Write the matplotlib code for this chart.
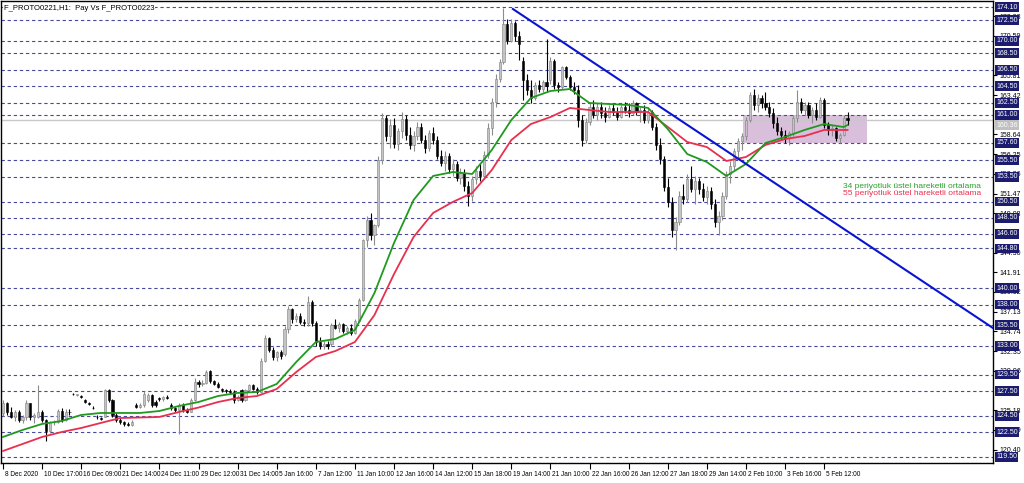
import matplotlib.pyplot as plt
import numpy as np
from matplotlib.patches import Rectangle
import matplotlib.transforms as mtransforms

plt.rcParams['font.family'] = ['Liberation Sans', 'DejaVu Sans']

# hourly candles, one row per 10 bars
opens = [
    124.8, 126.0, 124.9, 124.4, 125.0, 124.0, 124.3, 126.0, 124.3, 124.4,
    125.0, 124.0, 122.6, 123.7, 123.8, 125.1, 124.0, 125.0, 127.2, 127.0,
    126.9, 126.4, 126.0, 125.5, 124.4, 124.2, 124.4, 127.6, 126.4, 124.6,
    124.0, 123.7, 123.5, 123.4, 125.8, 125.6, 125.8, 126.4, 127.0, 126.2,
    126.6, 126.5, 126.8, 125.8, 125.4, 125.2, 125.8, 125.2, 125.0, 126.4,
    128.6, 128.3, 128.5, 129.9, 128.7, 128.4, 127.8, 127.6, 127.5, 127.4,
    126.4, 127.6, 126.4, 127.6, 128.2, 127.8, 127.4, 131.2, 133.9, 132.5,
    131.6, 132.2, 132.0, 135.0, 137.4, 136.2, 136.6, 135.9, 135.7, 138.3,
    135.8, 133.4, 133.0, 133.2, 133.2, 135.5, 135.2, 135.6, 134.8, 135.2,
    134.6, 136.0, 138.6, 145.8, 148.3, 146.4, 147.6, 155.5, 160.6, 158.4,
    159.8, 157.5, 159.0, 160.5, 158.6, 157.4, 158.5, 159.6, 158.0, 157.0,
    158.8, 158.0, 156.0, 155.2, 156.0, 154.4, 155.0, 153.4, 154.0, 152.4,
    151.2, 153.2, 154.2, 153.6, 156.2, 159.4, 162.6, 165.4, 167.4, 172.0,
    170.0, 172.2, 170.6, 167.6, 165.2, 164.0, 163.0, 164.6, 164.2, 165.0,
    165.2, 167.6, 164.6, 164.4, 166.8, 165.6, 164.4, 164.0, 160.4, 158.0,
    160.2, 162.0, 161.0, 162.0, 161.2, 160.8, 161.8, 161.4, 160.8, 162.0,
    161.6, 161.2, 162.4, 161.4, 161.6, 160.4, 161.4, 159.6, 157.4, 155.6,
    152.2, 150.4, 147.0, 148.0, 151.2, 150.8, 153.2, 152.0, 153.0, 152.0,
    151.0, 151.8, 150.2, 148.0, 148.8, 151.2, 153.8, 154.8, 156.6, 157.8,
    158.4, 160.4, 163.4, 162.2, 163.0, 162.4, 162.0, 161.2, 160.0, 159.0,
    158.6, 158.2, 158.8, 160.6, 162.6, 161.6, 162.2, 161.0, 161.6, 160.8,
    162.8, 159.8, 159.2, 159.4, 158.2, 158.6, 160.6,
]
highs = [
    126.4, 126.2, 125.6, 125.2, 125.2, 124.6, 126.4, 126.1, 124.8, 128.2,
    125.2, 124.1, 123.9, 124.0, 125.3, 125.4, 125.3, 125.3, 127.3, 127.2,
    127.0, 126.5, 126.2, 125.7, 124.6, 124.4, 127.8, 127.7, 126.5, 124.8,
    124.2, 123.9, 123.7, 124.0, 126.0, 126.0, 127.5, 127.3, 127.2, 126.4,
    126.8, 126.9, 127.0, 126.0, 125.6, 126.0, 126.0, 125.4, 126.6, 129.1,
    128.9, 128.8, 130.0, 130.0, 128.9, 128.6, 127.9, 127.8, 127.8, 127.6,
    127.0, 127.8, 127.8, 128.3, 128.4, 128.0, 131.5, 134.3, 134.0, 132.8,
    132.4, 132.5, 135.4, 137.8, 137.6, 137.0, 137.0, 136.2, 139.0, 138.5,
    136.0, 134.0, 133.6, 133.6, 135.8, 136.3, 135.9, 135.8, 135.4, 135.6,
    136.2, 138.8, 146.0, 148.8, 149.1, 147.8, 156.0, 161.2, 161.0, 160.5,
    160.6, 159.4, 161.4, 161.0, 159.5, 159.0, 160.2, 160.0, 158.6, 159.2,
    159.6, 158.4, 156.8, 156.6, 156.4, 155.6, 155.4, 154.6, 154.4, 153.0,
    153.6, 154.8, 155.0, 156.6, 160.0, 163.0, 166.0, 167.8, 174.0, 172.6,
    172.6, 172.4, 171.2, 168.0, 166.0, 165.2, 165.0, 165.2, 165.2, 170.2,
    168.0, 167.8, 165.0, 167.0, 167.0, 165.8, 165.0, 164.6, 161.0, 160.6,
    162.4, 162.8, 162.4, 162.6, 162.0, 162.2, 162.4, 162.0, 162.2, 162.6,
    162.4, 162.8, 162.6, 162.0, 162.2, 161.8, 161.6, 160.0, 158.2, 156.0,
    153.4, 151.0, 148.6, 151.8, 152.6, 153.8, 154.8, 153.6, 153.4, 152.8,
    152.4, 152.2, 150.8, 149.4, 151.6, 154.2, 155.4, 157.0, 158.2, 158.8,
    160.8, 163.8, 164.2, 163.6, 163.4, 163.8, 162.6, 161.8, 160.8, 159.6,
    159.2, 159.0, 161.0, 164.0, 163.0, 162.6, 162.6, 162.0, 162.4, 163.2,
    163.0, 160.2, 159.8, 159.6, 158.8, 161.0, 161.4,
]
lows = [
    124.5, 124.6, 124.2, 123.9, 123.8, 123.6, 124.0, 124.0, 123.6, 124.2,
    123.8, 121.5, 122.4, 123.4, 123.6, 123.8, 123.9, 124.6, 127.0, 126.9,
    126.7, 126.1, 125.8, 125.3, 124.1, 124.0, 124.3, 126.2, 124.4, 123.8,
    123.5, 123.3, 123.2, 123.3, 125.5, 125.4, 125.6, 126.2, 125.6, 125.6,
    126.3, 126.3, 126.5, 125.2, 125.0, 122.3, 125.0, 124.8, 124.9, 126.3,
    128.0, 128.1, 128.4, 128.5, 128.2, 127.9, 127.4, 127.3, 127.2, 126.0,
    126.3, 126.2, 126.3, 127.4, 127.6, 127.2, 127.3, 131.0, 132.2, 131.3,
    131.2, 131.4, 131.8, 134.6, 135.8, 135.9, 135.6, 135.4, 135.4, 135.4,
    133.0, 132.6, 132.6, 132.6, 133.0, 135.0, 134.7, 134.6, 134.4, 134.3,
    134.4, 135.9, 138.4, 145.0, 145.8, 145.2, 147.4, 155.0, 157.8, 157.0,
    157.0, 156.8, 158.2, 158.0, 156.9, 156.6, 158.0, 157.6, 156.4, 156.6,
    157.5, 155.6, 154.8, 154.2, 154.0, 153.6, 153.0, 152.6, 151.8, 150.0,
    150.6, 152.6, 153.0, 153.2, 155.8, 158.6, 162.0, 165.0, 167.2, 169.6,
    169.8, 170.0, 167.7, 162.8, 163.4, 162.4, 162.8, 163.8, 163.8, 163.8,
    164.8, 164.2, 163.8, 164.2, 165.4, 164.0, 163.6, 159.6, 157.2, 157.6,
    159.8, 160.6, 160.4, 160.6, 160.2, 160.6, 161.0, 160.4, 160.6, 161.2,
    160.8, 161.0, 161.0, 160.2, 160.0, 160.0, 159.2, 156.8, 155.0, 151.8,
    149.8, 146.2, 144.6, 147.6, 150.2, 150.4, 151.6, 150.2, 151.4, 150.6,
    150.2, 149.6, 147.4, 146.4, 148.2, 150.8, 152.8, 154.2, 155.6, 156.8,
    158.0, 160.2, 161.6, 161.4, 161.8, 161.6, 160.8, 159.4, 158.6, 158.0,
    157.6, 157.4, 158.4, 160.2, 161.2, 161.0, 160.6, 160.0, 160.4, 160.6,
    159.4, 158.6, 158.4, 157.8, 157.6, 158.4, 159.8,
]
closes = [
    126.0, 124.9, 124.4, 125.0, 124.0, 124.3, 126.0, 124.3, 124.6, 125.0,
    124.0, 122.6, 123.7, 123.8, 125.1, 124.0, 125.0, 124.9, 127.1, 127.1,
    126.8, 126.2, 125.9, 125.4, 124.3, 124.1, 127.6, 126.4, 124.6, 124.0,
    123.7, 123.5, 123.4, 123.8, 125.6, 125.8, 127.2, 127.0, 125.8, 125.8,
    126.5, 126.8, 126.6, 125.4, 125.2, 125.8, 125.2, 125.0, 126.4, 128.6,
    128.3, 128.5, 129.8, 128.7, 128.4, 128.0, 127.6, 127.5, 127.4, 126.4,
    126.8, 126.4, 127.6, 128.2, 127.8, 127.4, 131.2, 133.9, 132.5, 131.6,
    132.2, 131.8, 135.0, 137.4, 136.2, 136.6, 135.9, 135.7, 138.3, 135.8,
    133.4, 133.0, 133.2, 133.0, 135.5, 135.2, 135.6, 134.8, 135.2, 134.6,
    136.0, 138.6, 145.8, 148.3, 146.4, 147.6, 155.5, 160.6, 158.4, 159.8,
    157.5, 159.0, 160.5, 158.6, 157.4, 158.5, 159.6, 158.0, 157.0, 158.8,
    158.0, 156.0, 155.2, 156.0, 154.4, 155.0, 153.4, 154.0, 152.4, 151.2,
    153.2, 154.2, 153.6, 156.2, 159.4, 162.6, 165.4, 167.4, 172.0, 170.0,
    172.2, 170.6, 169.6, 165.2, 164.0, 163.0, 164.6, 164.2, 165.0, 164.5,
    167.6, 164.6, 164.4, 166.8, 165.6, 164.4, 164.0, 160.4, 158.0, 160.2,
    162.0, 161.0, 162.0, 161.2, 160.8, 161.8, 161.4, 160.8, 162.0, 161.6,
    161.2, 162.4, 161.4, 161.6, 160.4, 161.4, 159.6, 157.4, 155.6, 152.2,
    150.4, 147.0, 148.0, 151.2, 150.8, 153.2, 152.0, 153.0, 152.0, 151.0,
    151.8, 150.2, 148.0, 148.8, 151.2, 153.8, 154.8, 156.6, 157.8, 158.4,
    160.4, 163.4, 162.2, 163.0, 162.4, 162.0, 161.2, 160.0, 159.0, 158.6,
    158.2, 158.8, 160.6, 162.6, 161.6, 162.2, 161.0, 161.6, 160.8, 162.8,
    159.8, 159.2, 159.4, 158.2, 158.6, 160.6, 160.36,
]

# moving averages read every 5 bars
ema_bars = list(range(0, 216, 5)) + [216]
ema34 = [
    121.93, 122.78, 123.51, 123.87, 124.60, 124.84, 124.84, 124.84, 125.08, 125.69,
    126.17, 126.90, 127.27, 127.39, 128.36, 131.03, 133.45, 133.82, 134.91, 139.40,
    145.47, 150.68, 153.60, 154.08, 153.84, 156.75, 160.39, 163.06, 163.91, 164.15,
    162.45, 162.33, 162.21, 161.85, 159.30, 156.26, 155.29, 153.60, 155.05, 157.60,
    158.33, 159.18, 159.90, 159.54, 159.78,
]
ema55 = [
    120.23, 121.08, 121.93, 122.53, 123.02, 123.63, 124.23, 124.29, 124.36, 124.96,
    125.50, 126.17, 126.66, 126.90, 127.75, 129.81, 131.63, 132.36, 133.45, 136.73,
    141.70, 146.19, 149.11, 150.44, 151.53, 154.32, 157.96, 159.90, 160.75, 161.85,
    161.60, 161.36, 161.36, 161.36, 159.55, 157.72, 157.11, 155.42, 155.90, 157.36,
    158.08, 158.45, 159.18, 159.18, 159.18,
]

date_labels = ["8 Dec 2020", "10 Dec 17:00", "16 Dec 09:00", "21 Dec 14:00", "24 Dec 11:00",
               "29 Dec 12:00", "31 Dec 14:00", "5 Jan 16:00", "7 Jan 12:00", "11 Jan 10:00",
               "12 Jan 16:00", "14 Jan 12:00", "15 Jan 18:00", "19 Jan 14:00", "21 Jan 10:00",
               "22 Jan 16:00", "26 Jan 12:00", "27 Jan 18:00", "29 Jan 14:00", "2 Feb 10:00",
               "3 Feb 16:00", "5 Feb 12:00"]

level_prices = [174.10, 172.50, 170.00, 168.50, 166.50, 164.50, 162.50, 161.00, 157.60,
                155.50, 153.50, 150.50, 148.50, 146.60, 144.80, 140.00, 138.00, 135.50,
                133.00, 129.50, 127.50, 124.50, 122.50, 119.50]
# price-scale ticks that are not hidden under a level label
axis_ticks = [120.40, 122.79, 125.18, 129.96, 132.35, 134.74, 137.13, 139.52,
              141.91, 144.30, 149.08, 151.47, 153.86, 156.25, 158.64,
              163.42, 165.81, 170.59, 172.98]
last_price = 160.36

trend_bars = [130.4, 260.0]
trend_prices = [173.86, 133.0]

box_bars = [189.3, 221.0]
box_prices = [157.6, 161.0]

fig = plt.figure(figsize=(10.24, 4.83), dpi=100)
ax = fig.add_axes([0.001, 20 / 483, 992 / 1024, 462 / 483])

x = np.arange(len(closes))
o, h, l, c = map(np.array, (opens, highs, lows, closes))
up = c >= o
body_lo = np.minimum(o, c)
body_h = np.maximum(np.abs(c - o), 0.08)

# horizontal levels
for lv in level_prices:
    ax.axhline(lv, color='#4a4a9c', lw=0.8, ls=(0, (3, 2.5)), zorder=1)
ax.axhline(last_price, color='#c8c8c8', lw=1.0, zorder=1)

ax.add_patch(Rectangle((box_bars[0], box_prices[0]), box_bars[1] - box_bars[0],
                       box_prices[1] - box_prices[0], facecolor='#d9bfdc',
                       edgecolor='none', zorder=0.5))

ax.vlines(x[up], l[up], h[up], color='#8c8c8c', lw=0.8, zorder=3)
ax.vlines(x[~up], l[~up], h[~up], color='black', lw=0.8, zorder=3)
ax.bar(x[up], body_h[up], bottom=body_lo[up], width=0.55, color='#c4c4c4',
       edgecolor='#808080', linewidth=0.4, zorder=4)
ax.bar(x[~up], body_h[~up], bottom=body_lo[~up], width=0.55, color='black',
       edgecolor='black', linewidth=0.4, zorder=4)

ax.plot(ema_bars, ema55, color='#e8304e', lw=1.3, zorder=5)
ax.plot(ema_bars, ema34, color='#1f9a1f', lw=1.3, zorder=6)
ax.plot(trend_bars, trend_prices, color='#0a14d0', lw=1.5, zorder=7)

ax.set_xlim(-0.51, 253.2)
ax.set_ylim(118.77, 174.83)

ax.yaxis.tick_right()
ax.set_yticks(axis_ticks)
ax.set_yticklabels([f'{v:.2f}' for v in axis_ticks])
ax.tick_params(axis='y', labelsize=5, length=3, pad=2, width=0.8)

ax.set_xticks(range(0, 10 * len(date_labels), 10))
ax.set_xticklabels(date_labels)
ax.tick_params(axis='x', labelsize=4.7, length=4, pad=2, width=0.8)
offset = mtransforms.ScaledTranslation(2 / 100, 0, fig.dpi_scale_trans)
for lbl in ax.get_xticklabels():
    lbl.set_horizontalalignment('left')
    lbl.set_transform(lbl.get_transform() + offset)

for s in ax.spines.values():
    s.set_color('black')
    s.set_linewidth(1.0)

ytr = ax.get_yaxis_transform()
for lv in level_prices:
    ax.text(1.0 + 3 / 992, lv, f'{lv:.2f}', transform=ytr, va='center', ha='left',
            fontsize=5, color='white', clip_on=False, zorder=10,
            bbox=dict(boxstyle='square,pad=0.2', fc='#1c1c6e', ec='none'))
ax.text(1.0 + 3 / 992, last_price - 0.6, f'{last_price:.2f}', transform=ytr, va='center',
        ha='left', fontsize=5, color='white', clip_on=False, zorder=9,
        bbox=dict(boxstyle='square,pad=0.2', fc='#c0c0c0', ec='none'))

ax.text(0.003, 0.992, 'F_PROTO0221,H1:  Pay Vs F_PROTO0223', transform=ax.transAxes,
        va='top', ha='left', fontsize=5.5, color='black', zorder=10,
        bbox=dict(boxstyle='square,pad=0.1', fc='white', ec='none'))

ax.text(980 / 992, (463 - 186) / 462, '34 periyotluk üstel hareketli ortalama',
        transform=ax.transAxes, ha='right', va='center', fontsize=6, color='#2aa02a', zorder=10)
ax.text(980 / 992, (463 - 194) / 462, '55 periyotluk üstel hareketli ortalama',
        transform=ax.transAxes, ha='right', va='center', fontsize=6, color='#e8304e', zorder=10)

plt.savefig("out.png", dpi=100)
